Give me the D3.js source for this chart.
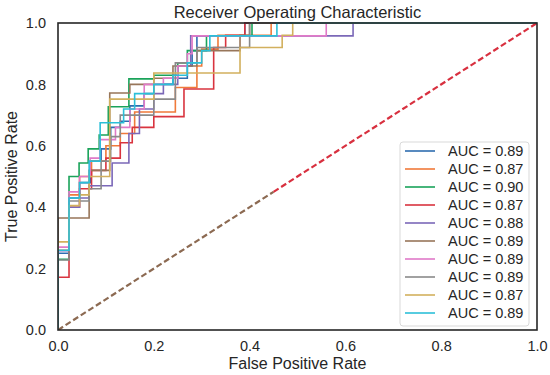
<!DOCTYPE html>
<html>
<head>
<meta charset="utf-8">
<script src="https://cdn.jsdelivr.net/npm/d3@7"></script>
<style>
  body { margin: 0; background: #fff; }
  text { font-family: "Liberation Sans", Arial, sans-serif; fill: #262626; }
</style>
</head>
<body>
<script>
// chart values
var aucLabels = ["0.89", "0.87", "0.90", "0.87", "0.88", "0.89", "0.89", "0.89", "0.87", "0.89"];
var lineColors = ["#2f6db0", "#f07a3a", "#1aa35a", "#d9343f", "#7b68b8",
                  "#98765a", "#e07ac8", "#8a8a8a", "#d2b05e", "#2cbfd8"];
var xTicks = [0, 0.2, 0.4, 0.6, 0.8, 1.0];
var yTicks = [0, 0.2, 0.4, 0.6, 0.8, 1.0];

// each fold: [fpr, tpr reached at that fpr]
var fold1 = [[0,0],[0,0.25],[0.023,0.43],[0.045,0.48],[0.068,0.55],[0.09,0.59],[0.11,0.66],[0.13,0.68],[0.15,0.73],[0.18,0.77],[0.2,0.8],[0.24,0.82],[0.27,0.86],[0.28,0.91],[0.29,0.958],[0.39,1],[1,1]];
var fold2 = [[0,0],[0,0.26],[0.023,0.44],[0.045,0.5],[0.07,0.55],[0.1,0.6],[0.13,0.64],[0.16,0.71],[0.245,0.79],[0.29,0.86],[0.3,0.915],[0.334,0.96],[0.445,1],[1,1]];
var fold3 = [[0,0],[0,0.23],[0.023,0.5],[0.044,0.544],[0.063,0.59],[0.086,0.635],[0.105,0.727],[0.148,0.818],[0.2,0.83],[0.25,0.87],[0.27,0.91],[0.31,0.958],[0.405,1],[1,1]];
var fold4 = [[0,0],[0,0.172],[0.023,0.4],[0.045,0.46],[0.07,0.52],[0.1,0.56],[0.13,0.61],[0.155,0.66],[0.2,0.695],[0.263,0.785],[0.325,0.92],[0.35,0.96],[0.39,1],[1,1]];
var fold5 = [[0,0],[0,0.258],[0.023,0.4],[0.045,0.43],[0.065,0.47],[0.113,0.544],[0.148,0.64],[0.17,0.72],[0.2,0.77],[0.22,0.8],[0.25,0.86],[0.277,0.958],[0.616,1],[1,1]];
var fold6 = [[0,0],[0,0.365],[0.065,0.52],[0.108,0.772],[0.15,0.8],[0.2,0.82],[0.24,0.86],[0.29,0.91],[0.38,0.96],[0.4,1],[1,1]];
var fold7 = [[0,0],[0,0.27],[0.023,0.45],[0.045,0.5],[0.067,0.56],[0.088,0.62],[0.12,0.66],[0.15,0.72],[0.18,0.8],[0.22,0.82],[0.25,0.86],[0.27,0.9],[0.28,0.958],[0.56,1],[1,1]];
var fold8 = [[0,0],[0,0.228],[0.023,0.42],[0.065,0.46],[0.09,0.55],[0.11,0.63],[0.13,0.7],[0.2,0.752],[0.245,0.87],[0.29,0.92],[0.4,1],[1,1]];
var fold9 = [[0,0],[0,0.287],[0.023,0.405],[0.045,0.44],[0.065,0.5],[0.108,0.752],[0.2,0.837],[0.38,0.92],[0.468,0.96],[0.49,1],[1,1]];
var fold10 = [[0,0],[0,0.26],[0.023,0.43],[0.045,0.48],[0.065,0.55],[0.088,0.675],[0.137,0.72],[0.16,0.77],[0.2,0.8],[0.24,0.83],[0.27,0.87],[0.3,0.91],[0.317,0.958],[0.457,1],[1,1]];
var folds = [fold1, fold2, fold3, fold4, fold5, fold6, fold7, fold8, fold9, fold10];

// chance line, drawn in two colours like the picture
var chanceBrown = [[0,0],[0.45,0.45]];
var chanceRed = [[0.45,0.45],[1,1]];

window.onload = function(){
    var w = 550, h = 375;
    var m = {left: 58, right: 13, top: 23, bottom: 45};

    var svg = d3.select("body")
        .append("svg")
        .attr("width", w)
        .attr("height", h);

    var x = d3.scaleLinear()
        .domain([0, 1])
        .range([m.left, w - m.right]);
    var y = d3.scaleLinear()
        .domain([0, 1])
        .range([h - m.bottom, m.top]);

    //clip so lines at the edges sit under the frame
    svg.append("clipPath")
        .attr("id", "plotClip")
        .append("rect")
        .attr("x", m.left)
        .attr("y", m.top - 1)
        .attr("width", w - m.left - m.right)
        .attr("height", h - m.top - m.bottom + 1);

    var line = d3.line()
        .x(function(d){ return x(d[0]); })
        .y(function(d){ return y(d[1]); })
        .curve(d3.curveStepAfter);

    var plot = svg.append("g").attr("clip-path", "url(#plotClip)");

    plot.selectAll(".roc")
        .data(folds)
        .enter()
        .append("path")
        .attr("class", "roc")
        .attr("d", line)
        .style("fill", "none")
        .style("stroke", function(d, i){ return lineColors[i]; })
        .style("stroke-width", 1.6);

    var straight = d3.line()
        .x(function(d){ return x(d[0]); })
        .y(function(d){ return y(d[1]); });

    plot.append("path")
        .attr("d", straight(chanceBrown))
        .style("fill", "none")
        .style("stroke", "#8c6a52")
        .style("stroke-width", 2.2)
        .style("stroke-dasharray", "6,3");
    plot.append("path")
        .attr("d", straight(chanceRed))
        .style("fill", "none")
        .style("stroke", "#d8303f")
        .style("stroke-width", 2.2)
        .style("stroke-dasharray", "6,3");

    //axes, no tick marks
    var xAxis = svg.append("g")
        .attr("transform", "translate(0," + (h - m.bottom) + ")")
        .call(d3.axisBottom(x).tickValues(xTicks).tickFormat(d3.format(".1f")).tickSize(0).tickPadding(11));
    var yAxis = svg.append("g")
        .attr("transform", "translate(" + m.left + ",0)")
        .call(d3.axisLeft(y).tickValues(yTicks).tickFormat(d3.format(".1f")).tickSize(0).tickPadding(12));
    svg.selectAll(".domain").remove();
    svg.selectAll(".tick text")
        .style("font-size", "14.5px")
        .style("font-family", "Liberation Sans, Arial, sans-serif")
        .style("fill", "#262626");

    //frame
    svg.append("rect")
        .attr("x", m.left)
        .attr("y", m.top)
        .attr("width", w - m.left - m.right)
        .attr("height", h - m.top - m.bottom)
        .style("fill", "none")
        .style("stroke", "#262626")
        .style("stroke-width", 1.6);

    //titles
    svg.append("text")
        .attr("x", (m.left + w - m.right) / 2)
        .attr("y", 18)
        .attr("text-anchor", "middle")
        .style("font-size", "16.5px")
        .text("Receiver Operating Characteristic");
    svg.append("text")
        .attr("x", (m.left + w - m.right) / 2)
        .attr("y", 369)
        .attr("text-anchor", "middle")
        .style("font-size", "16px")
        .text("False Positive Rate");
    svg.append("text")
        .attr("transform", "translate(17," + ((m.top + h - m.bottom) / 2) + ") rotate(-90)")
        .attr("text-anchor", "middle")
        .style("font-size", "16px")
        .text("True Positive Rate");

    //legend
    var legend = svg.append("g").attr("class", "legend");
    legend.append("rect")
        .attr("x", 400)
        .attr("y", 142)
        .attr("width", 129)
        .attr("height", 184)
        .attr("rx", 3)
        .style("fill", "#fff")
        .style("fill-opacity", 0.85)
        .style("stroke", "#d9d9d9")
        .style("stroke-width", 1);

    var rows = legend.selectAll(".row")
        .data(aucLabels)
        .enter()
        .append("g")
        .attr("class", "row")
        .attr("transform", function(d, i){ return "translate(0," + (151 + i * 18) + ")"; });
    rows.append("line")
        .attr("x1", 405)
        .attr("x2", 435)
        .style("stroke", function(d, i){ return lineColors[i]; })
        .style("stroke-width", 1.6);
    rows.append("text")
        .attr("x", 448)
        .attr("dy", "0.35em")
        .style("font-size", "14.5px")
        .text(function(d){ return "AUC = " + d; });
};
</script>
</body>
</html>
